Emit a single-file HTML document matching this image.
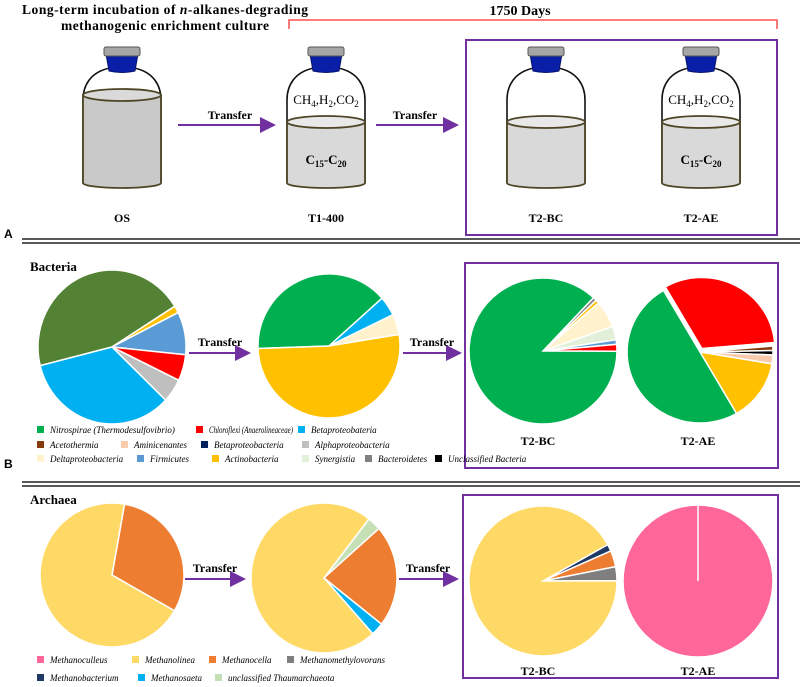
<!DOCTYPE html>
<html><head><meta charset="utf-8"><style>
html,body{margin:0;padding:0;background:#fff;}
svg{display:block;font-family:"Liberation Serif",serif;}
.b{font-weight:bold;}
.lg{font-style:italic;font-size:9px;}
</style></head><body>
<svg id="fig" width="800" height="687" viewBox="0 0 800 687" xmlns="http://www.w3.org/2000/svg">
<defs><marker id="ah" markerWidth="8" markerHeight="8" refX="7" refY="4" orient="auto"><path d="M0,0 L8,4 L0,8 Z" fill="#7030A0"/></marker></defs>
<g id="panelA">
<text class="b" x="165" y="14" font-size="13.5" text-anchor="middle" textLength="286">Long-term incubation of <tspan font-style="italic">n</tspan>-alkanes-degrading</text>
<text class="b" x="165" y="30" font-size="13.5" text-anchor="middle" textLength="208">methanogenic enrichment culture</text>
<text class="b" x="520" y="15" font-size="14" text-anchor="middle">1750 Days</text>
<path d="M289,29 V20 H777 V29" fill="none" stroke="#FF5050" stroke-width="1.5"/>
<rect x="466" y="40" width="311" height="195" fill="none" stroke="#7030A0" stroke-width="2"/>
<g id="bottles"></g>
<line x1="178" y1="125" x2="274" y2="125" stroke="#7030A0" stroke-width="2" marker-end="url(#ah)"/>
<text class="b" x="230" y="119" font-size="12" text-anchor="middle">Transfer</text>
<line x1="376" y1="125" x2="457" y2="125" stroke="#7030A0" stroke-width="2" marker-end="url(#ah)"/>
<text class="b" x="415" y="119" font-size="12" text-anchor="middle">Transfer</text>
<text class="b" x="122" y="222" font-size="12" text-anchor="middle">OS</text>
<text class="b" x="326" y="222" font-size="12" text-anchor="middle">T1-400</text>
<text class="b" x="546" y="222" font-size="12" text-anchor="middle">T2-BC</text>
<text class="b" x="701" y="222" font-size="12" text-anchor="middle">T2-AE</text>
<text x="4" y="238" font-size="12" font-weight="bold" font-family="Liberation Sans,sans-serif">A</text>
</g>
<line x1="22" y1="239" x2="800" y2="239" stroke="#222" stroke-width="1.5"/>
<line x1="22" y1="243" x2="800" y2="243" stroke="#222" stroke-width="1.5"/>
<g id="panelB">
<text class="b" x="30" y="271" font-size="13">Bacteria</text>
<rect x="465" y="263" width="313" height="205" fill="none" stroke="#7030A0" stroke-width="2"/>
<line x1="189" y1="353" x2="249" y2="353" stroke="#7030A0" stroke-width="2" marker-end="url(#ah)"/>
<text class="b" x="220" y="346" font-size="12" text-anchor="middle">Transfer</text>
<line x1="403" y1="353" x2="460" y2="353" stroke="#7030A0" stroke-width="2" marker-end="url(#ah)"/>
<text class="b" x="432" y="346" font-size="12" text-anchor="middle">Transfer</text>
<text class="b" x="538" y="445" font-size="12" text-anchor="middle">T2-BC</text>
<text class="b" x="698" y="445" font-size="12" text-anchor="middle">T2-AE</text>
<text x="4" y="468" font-size="12" font-weight="bold" font-family="Liberation Sans,sans-serif">B</text>
</g>
<line x1="22" y1="482" x2="800" y2="482" stroke="#222" stroke-width="1.5"/>
<line x1="22" y1="486" x2="800" y2="486" stroke="#222" stroke-width="1.5"/>
<g id="panelC">
<text class="b" x="30" y="504" font-size="13">Archaea</text>
<rect x="463" y="495" width="315" height="183" fill="none" stroke="#7030A0" stroke-width="2"/>
<line x1="185" y1="579" x2="244" y2="579" stroke="#7030A0" stroke-width="2" marker-end="url(#ah)"/>
<text class="b" x="215" y="572" font-size="12" text-anchor="middle">Transfer</text>
<line x1="399" y1="579" x2="457" y2="579" stroke="#7030A0" stroke-width="2" marker-end="url(#ah)"/>
<text class="b" x="428" y="572" font-size="12" text-anchor="middle">Transfer</text>
<text class="b" x="538" y="675" font-size="12" text-anchor="middle">T2-BC</text>
<text class="b" x="698" y="675" font-size="12" text-anchor="middle">T2-AE</text>
</g>
<g id="pies"></g>
<g id="legends"></g>
</svg>
<script>
// Bacteria pies (percent), slices clockwise
const bacOSNames = ["Unassigned","Actinobacteria","Firmicutes","Chloroflexi","Alphaproteobacteria","Betaproteobateria"];
const bacOSValues = [45, 1.5, 9, 5.5, 5, 34];
const bacT1Names = ["Nitrospirae","Betaproteobateria","Deltaproteobacteria","Actinobacteria"];
const bacT1Values = [39, 4.4, 4.6, 52];
const bacBCNames = ["Bacteroidetes","Actinobacteria","Deltaproteobacteria","Synergistia","Firmicutes","Chloroflexi","Nitrospirae"];
const bacBCValues = [0.8, 0.8, 6, 3, 1, 1.5, 86.9];
const bacAENames = ["Chloroflexi","Acetothermia","Unclassified Bacteria","Aminicenantes","Actinobacteria","Nitrospirae"];
const bacAEValues = [32, 1, 1, 2, 14, 50];
// Archaea pies
const arcOSNames = ["Methanocella","Methanolinea"];
const arcOSValues = [30.5, 69.5];
const arcT1Names = ["unclassified Thaumarchaeota","Methanocella","Methanosaeta","Methanolinea"];
const arcT1Values = [3, 22, 2.8, 72.2];
const arcBCNames = ["Methanobacterium","Methanocella","Methanomethylovorans","Methanolinea"];
const arcBCValues = [1.5, 3.5, 3, 92];
const arcAENames = ["Methanoculleus"];
const arcAEValues = [100];

const COL = {"Nitrospirae":"#00B050","Chloroflexi":"#FF0000","Betaproteobateria":"#00B0F0","Acetothermia":"#843C0C","Aminicenantes":"#F8CBAD","Betaproteobacteria":"#002060","Alphaproteobacteria":"#BFBFBF","Deltaproteobacteria":"#FFF2CC","Firmicutes":"#5B9BD5","Actinobacteria":"#FFC000","Synergistia":"#E2F0D9","Bacteroidetes":"#808080","Unclassified Bacteria":"#000000","Unassigned":"#548235",
"Methanoculleus":"#FF6699","Methanolinea":"#FFD966","Methanocella":"#ED7D31","Methanomethylovorans":"#7F7F7F","Methanobacterium":"#1F3864","Methanosaeta":"#00B0F0","unclassified Thaumarchaeota":"#C5E0B4"};
const NS="http://www.w3.org/2000/svg";
function mk(t,a,p){const e=document.createElementNS(NS,t);for(const k in a)e.setAttribute(k,a[k]);p.appendChild(e);return e;}

// bottles
const bg=document.getElementById('bottles');
function bottle(cx,lt,dark,gas,sub,nm){
  const g=mk('g',{},bg);
  
  
  const w=39;
  mk('path',{d:`M${cx-12},68 C${cx-32},72 ${cx-w},86 ${cx-w},100 L${cx-w},183 M${cx+12},68 C${cx+32},72 ${cx+w},86 ${cx+w},100 L${cx+w},183`,fill:'none',stroke:'#111','stroke-width':1.6},g);
  mk('path',{d:`M${cx-w},${lt} L${cx-w},183 A${w},5 0 0 0 ${cx+w},183 L${cx+w},${lt} Z`,fill:dark?'#C9C9C9':'#D9D9D9',stroke:'#4D4526','stroke-width':1.8},g);
  mk('ellipse',{cx:cx,cy:lt,rx:w,ry:6,fill:dark?'#DADADA':'#E8E8E8',stroke:'#4D4526','stroke-width':1.8},g);
  mk('path',{d:`M${cx-16},54 L${cx+16},54 L${cx+13},71 Q${cx},74 ${cx-13},71 Z`,fill:'#0A1FA8',stroke:'#06126A','stroke-width':1},g);
  mk('rect',{x:cx-18,y:47,width:36,height:9,rx:2,fill:'#A6A6A6',stroke:'#555','stroke-width':1},g);
  if(gas){const t=mk('text',{x:cx,y:104,'font-size':13,'text-anchor':'middle'},g);t.innerHTML='CH<tspan font-size="9" dy="3">4</tspan><tspan dy="-3">,H</tspan><tspan font-size="9" dy="3">2</tspan><tspan dy="-3">,CO</tspan><tspan font-size="9" dy="3">2</tspan>';}
  if(sub){const t=mk('text',{x:cx,y:164,'font-size':13,'font-weight':'bold','text-anchor':'middle'},g);t.innerHTML='C<tspan font-size="9" dy="3">15</tspan><tspan dy="-3">-C</tspan><tspan font-size="9" dy="3">20</tspan>';}
}
bottle(122,95,true,false,false,'bottle-os');
bottle(326,122,false,true,true,'bottle-t1-400');
bottle(546,122,false,false,false,'bottle-t2-bc');
bottle(701,122,false,true,true,'bottle-t2-ae');

// pies
const pg=document.getElementById('pies');
function pie(nm,cx,cy,rx,ry,start,names,vals,explode){
  const g=mk('g',{},pg);
  
  
  const tot=vals.reduce((a,b)=>a+b,0);
  let a=start;
  names.forEach((n,i)=>{
    const sw=vals[i]/tot*360, a2=a+sw;
    const r=x=>x*Math.PI/180;
    let ox=0,oy=0;
    if(explode&&explode[i]){const m=r(a+sw/2);ox=Math.sin(m)*explode[i];oy=-Math.cos(m)*explode[i];}
    const px=t=>cx+ox+rx*Math.sin(r(t)), py=t=>cy+oy-ry*Math.cos(r(t));
    let d;
    if(sw>=359.99){d=`M${cx-rx},${cy} A${rx},${ry} 0 1 1 ${cx+rx},${cy} A${rx},${ry} 0 1 1 ${cx-rx},${cy} Z`;}
    else d=`M${cx+ox},${cy+oy} L${px(a)},${py(a)} A${rx},${ry} 0 ${sw>180?1:0} 1 ${px(a2)},${py(a2)} Z`;
    const p=mk('path',{d:d,fill:COL[n],stroke:'#fff','stroke-width':1.5},g);
    
    
    a=a2;
  });
  if(vals.length===1){mk('line',{x1:cx,y1:cy-ry,x2:cx,y2:cy,stroke:'#fff','stroke-width':1.5},g);}
}
pie('pie-bacteria-os',112,347,74,77,256,bacOSNames,bacOSValues);
pie('pie-bacteria-t1',329,346,71,72,268,bacT1Names,bacT1Values);
pie('pie-bacteria-t2bc',543,351,74,73,43,bacBCNames,bacBCValues);
pie('pie-bacteria-t2ae',700,352,73,71,330,bacAENames,bacAEValues,[4,0,0,0,0,0]);
pie('pie-archaea-os',112,575,72,72,10,arcOSNames,arcOSValues);
pie('pie-archaea-t1',324,578,73,75,38,arcT1Names,arcT1Values);
pie('pie-archaea-t2bc',543,581,74,75,61,arcBCNames,arcBCValues);
pie('pie-archaea-t2ae',698,581,75,76,0,arcAENames,arcAEValues);

// legends
const lg=document.getElementById('legends');
const legB=[["Nitrospirae (Thermodesulfovibrio)",37,433],["Chloroflexi (Anaerolineaceae)",196,433],["Betaproteobateria",298,433],
["Acetothermia",37,448],["Aminicenantes",121,448],["Betaproteobacteria",201,448],["Alphaproteobacteria",302,448],
["Deltaproteobacteria",37,462],["Firmicutes",137,462],["Actinobacteria",212,462],["Synergistia",302,462],["Bacteroidetes",365,462],["Unclassified Bacteria",435,462]];
const legC=[["Methanoculleus",37,663],["Methanolinea",132,663],["Methanocella",209,663],["Methanomethylovorans",287,663],
["Methanobacterium",37,681],["Methanosaeta",138,681],["unclassified Thaumarchaeota",215,681]];
function leg(arr,nm){
  const g=mk('g',{},lg);
  
  
  arr.forEach(([t,x,y])=>{
    const key=t.split(' (')[0];
    const e=mk('g',{},g);
    
    
    mk('rect',{x:x,y:y-7,width:7,height:7,fill:COL[key]},e);
    const tx=mk('text',{x:x+13,y:y,class:'lg'},e);
    tx.textContent=t;
    if(t==="Chloroflexi (Anaerolineaceae)"){tx.setAttribute('textLength','84');tx.setAttribute('lengthAdjust','spacingAndGlyphs');}
    if(t==="Unclassified Bacteria")tx.setAttribute('font-style','normal');
  });
}
leg(legB,'legend-bacteria');
leg(legC,'legend-archaea');
</script>
</body></html>
